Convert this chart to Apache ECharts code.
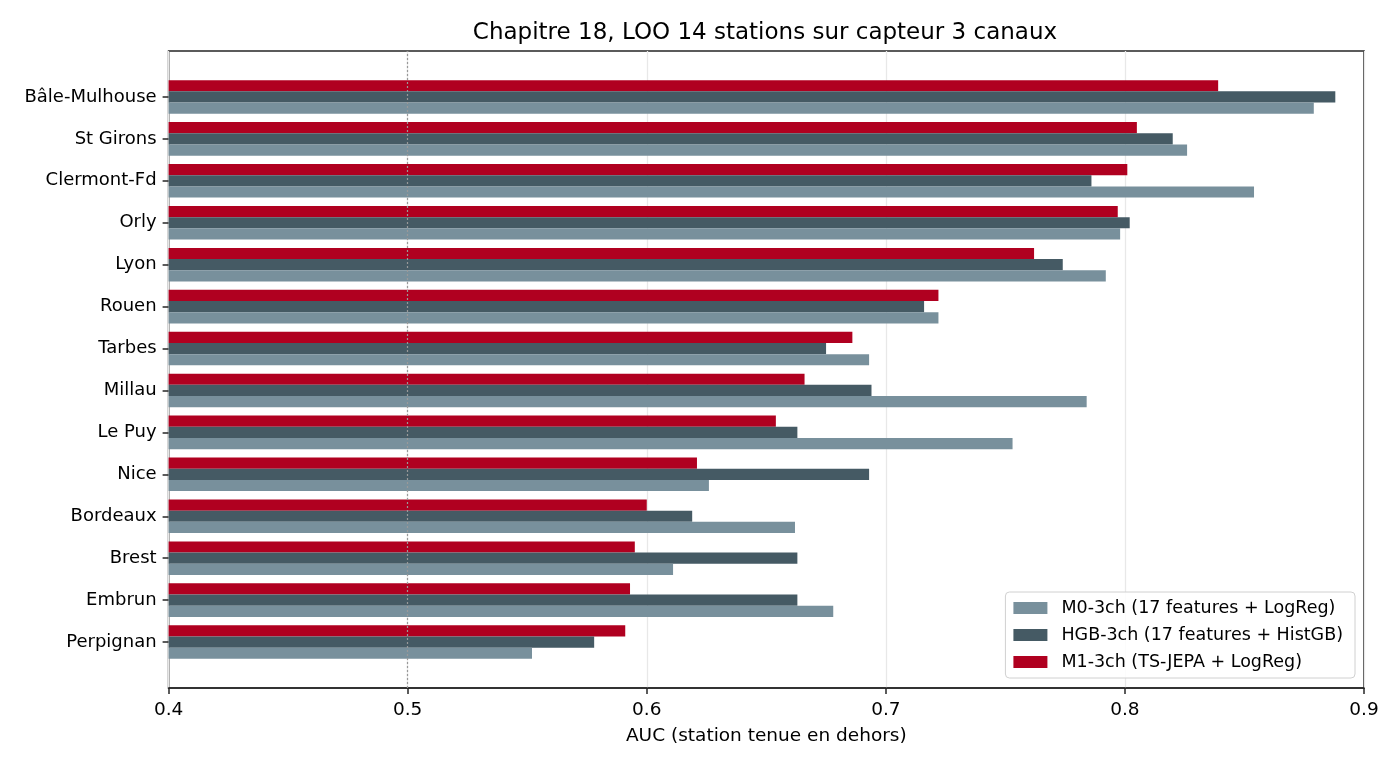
<!DOCTYPE html>
<html>
<head>
<meta charset="utf-8">
<script src="https://cdn.jsdelivr.net/npm/echarts@6/dist/echarts.min.js"></script>
<style>
  html, body { margin: 0; padding: 0; background: #fff; }
  #main { width: 1400px; height: 770px; }
</style>
</head>
<body>
<div id="main"></div>
<script>
// stations, de haut en bas
var stations = ['Bâle-Mulhouse', 'St Girons', 'Clermont-Fd', 'Orly', 'Lyon', 'Rouen', 'Tarbes',
    'Millau', 'Le Puy', 'Nice', 'Bordeaux', 'Brest', 'Embrun', 'Perpignan'];

var m0 = [0.879, 0.826, 0.854, 0.798, 0.792, 0.722, 0.693, 0.784, 0.753, 0.626, 0.662, 0.611, 0.678, 0.552];
var hgb = [0.888, 0.820, 0.786, 0.802, 0.774, 0.716, 0.675, 0.694, 0.663, 0.693, 0.619, 0.663, 0.663, 0.578];
var m1 = [0.839, 0.805, 0.801, 0.797, 0.762, 0.722, 0.686, 0.666, 0.654, 0.621, 0.600, 0.595, 0.593, 0.591];

var xTicks = [0.4, 0.5, 0.6, 0.7, 0.8, 0.9];

var nomM0 = 'M0-3ch (17 features + LogReg)';
var nomHGB = 'HGB-3ch (17 features + HistGB)';
var nomM1 = 'M1-3ch (TS-JEPA + LogReg)';

var police = 'DejaVu Sans';

var myChart = echarts.init(document.getElementById('main'));

var option = {
    animation: false,
    textStyle: { fontFamily: police },
    title: {
        text: 'Chapitre 18, LOO 14 stations sur capteur 3 canaux',
        left: 760,
        top: 17,
        textAlign: 'center',
        textStyle: { fontFamily: police, fontSize: 23, fontWeight: 'normal', color: '#000' }
    },
    legend: {
        data: [nomM0, nomHGB, nomM1],
        orient: 'vertical',
        right: 45,
        top: 592,
        icon: 'rect',
        itemWidth: 34,
        itemHeight: 12,
        itemGap: 7,
        padding: [6, 12, 6, 8],
        backgroundColor: 'rgba(255,255,255,0.85)',
        borderColor: '#d0d0d0',
        borderWidth: 1,
        borderRadius: 4,
        textStyle: { fontFamily: police, fontSize: 17.5, lineHeight: 20, color: '#000', padding: [0, 0, 0, 9] }
    },
    grid: [
        // cadre + grille verticale
        { left: 168.6, right: 36, top: 51, bottom: 82, show: true, borderColor: '#262626', borderWidth: 1.6, backgroundColor: 'transparent', containLabel: false },
        // barres
        { left: 168.6, right: 36, top: 76, bottom: 107, containLabel: false }
    ],
    xAxis: [
        {
            gridIndex: 0,
            type: 'value',
            min: 0.4,
            max: 0.9,
            interval: 0.1,
            name: 'AUC (station tenue en dehors)',
            nameLocation: 'middle',
            nameGap: 39,
            nameTextStyle: { fontFamily: police, fontSize: 18.5, color: '#000' },
            axisLine: { show: true, lineStyle: { color: '#262626', width: 1.6 } },
            axisTick: { show: true, length: 6, lineStyle: { color: '#262626', width: 1.5 } },
            axisLabel: {
                fontFamily: police, fontSize: 18.5, color: '#000', margin: 13,
                formatter: function (v) { return xTicks.indexOf(+v.toFixed(1)) >= 0 ? v.toFixed(1) : ''; }
            },
            splitLine: { show: true, lineStyle: { color: '#e8e8e8', width: 1.3 } }
        },
        {
            gridIndex: 1,
            type: 'value',
            min: 0.4,
            max: 0.9,
            show: false
        }
    ],
    yAxis: [
        { gridIndex: 0, type: 'value', min: 0, max: 1, show: false },
        {
            gridIndex: 1,
            type: 'category',
            data: stations,
            inverse: true,
            axisLine: { show: false },
            axisTick: { show: true, alignWithLabel: true, length: 6, lineStyle: { color: '#262626', width: 1.5 } },
            axisLabel: { fontFamily: police, fontSize: 18, color: '#000', margin: 12 },
            splitLine: { show: false }
        }
    ],
    series: [
        {
            name: 'ref05',
            type: 'line',
            xAxisIndex: 0,
            yAxisIndex: 0,
            data: [],
            silent: true,
            markLine: {
                silent: true,
                symbol: 'none',
                label: { show: false },
                lineStyle: { color: '#999', type: [2, 2], width: 1.2 },
                data: [{ xAxis: 0.5 }]
            }
        },
        {
            name: nomM1, type: 'bar', xAxisIndex: 1, yAxisIndex: 1, data: m1,
            barWidth: 11.2, barGap: '0%', itemStyle: { color: '#b00020' }
        },
        {
            name: nomHGB, type: 'bar', xAxisIndex: 1, yAxisIndex: 1, data: hgb,
            barWidth: 11.2, barGap: '0%', itemStyle: { color: '#455a64' }
        },
        {
            name: nomM0, type: 'bar', xAxisIndex: 1, yAxisIndex: 1, data: m0,
            barWidth: 11.2, barGap: '0%', itemStyle: { color: '#78909c' }
        }
    ]
};

myChart.setOption(option);
</script>
</body>
</html>
